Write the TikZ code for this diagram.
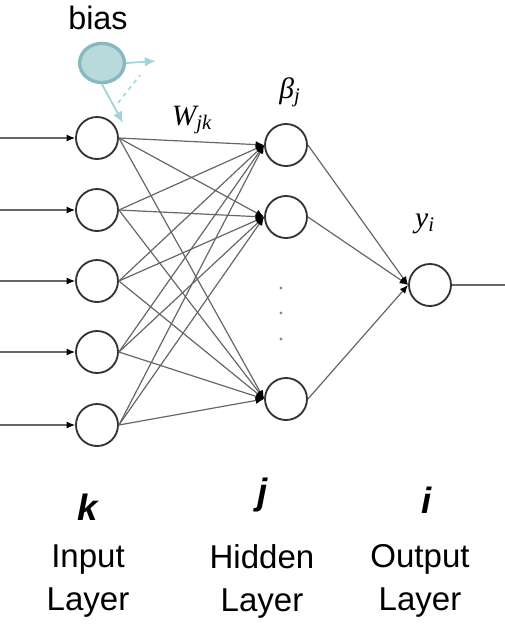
\documentclass[tikz,border=0pt]{standalone}
\usepackage{fontspec}
\setmainfont{Liberation Sans}
\newfontfamily\serifit{Liberation Serif}
\usetikzlibrary{shapes.geometric,arrows.meta}
\definecolor{biasfill}{RGB}{184,218,220}
\definecolor{biasedge}{RGB}{135,185,190}
\definecolor{biasline}{RGB}{165,212,216}

\begin{document}
\begin{tikzpicture}[x=0.025cm,y=-0.025cm,
		neuron/.style={circle,draw=black!80,line width=1.3pt,minimum size=1.05cm,inner sep=0pt,fill=white},
		link/.style={-{Latex[black,length=6pt,width=5pt]},draw=black!60,line width=0.85pt},
		biaslink/.style={-{Latex[length=8pt,width=7pt]},draw=biasline,line width=1.3pt},
		layername/.style={align=center,font=\fontsize{23.5}{30.6}\selectfont},
		layerindex/.style={font=\fontsize{26}{30}\selectfont\bfseries\itshape}]
		\useasboundingbox (0,0) rectangle (505,627);
		
		% input layer
		\foreach \i/\y in {1/138,2/210,3/281,4/352,5/425} {
			\node[neuron] (in-\i) at (97,\y) {};
			\coordinate (src-\i) at (0,\y);
			\draw[link] (src-\i) -- (in-\i);
		}
		
		% hidden and output layer
		\foreach \j/\y in {1/145,2/217,3/399}
			\node[neuron] (hid-\j) at (286,\y) {};
		\node[neuron] (out) at (430,285) {};
		\coordinate (sink) at (505,285);
		
		\foreach \i in {1,...,5}
			\foreach \j in {1,2,3}
				\draw[link] (in-\i.east) -- (hid-\j.west);
		\foreach \j in {1,2,3}
			\draw[link] (hid-\j.east) -- (out.west);
		\draw[draw=black!60,line width=0.85pt] (out) -- (sink);
		
		\foreach \n/\y in {1/288,2/313,3/339}
			\node[circle,fill=black!45,inner sep=0.8pt] (dot-\n) at (281,\y) {};
		
		% bias unit
		\node[ellipse,fill=biasfill,draw=biasedge,line width=2.4pt,minimum width=1.12cm,minimum height=0.98cm] (bias) at (102,63) {};
		\node[font=\fontsize{23}{26}\selectfont] (biaslabel) at (98,18) {bias};
		\coordinate (bias-r) at (156,61);
		\coordinate (bias-d) at (123,123);
		\coordinate (dash-a) at (118,103);
		\coordinate (dash-b) at (140,75);
		\draw[biaslink] (bias.east) -- (bias-r);
		\draw[biaslink] (bias.south) -- (bias-d);
		\draw[biasline,dashed,line width=1.1pt] (dash-a) -- (dash-b);
		
		% labels
		\node[font=\fontsize{21}{24}\selectfont\serifit\itshape] (weight) at (192,120) {W\textsubscript{jk}};
		\node[font=\fontsize{21}{24}\selectfont\serifit\itshape] (beta) at (290,92) {β\textsubscript{j}};
		\node[font=\fontsize{21}{24}\selectfont\serifit\itshape] (yout) at (425,224) {y\textsubscript{i}};
		
		\node[layerindex] (k) at (88,507) {k};
		\node[layerindex] (j) at (263,495) {j};
		\node[layerindex] (i) at (427,500) {i};
		\node[layername] (inname) at (88,581) {Input\\Layer};
		\node[layername] (hidname) at (262,581) {Hidden\\Layer};
		\node[layername] (outname) at (420,581) {Output\\Layer};
	\end{tikzpicture}
\end{document}
